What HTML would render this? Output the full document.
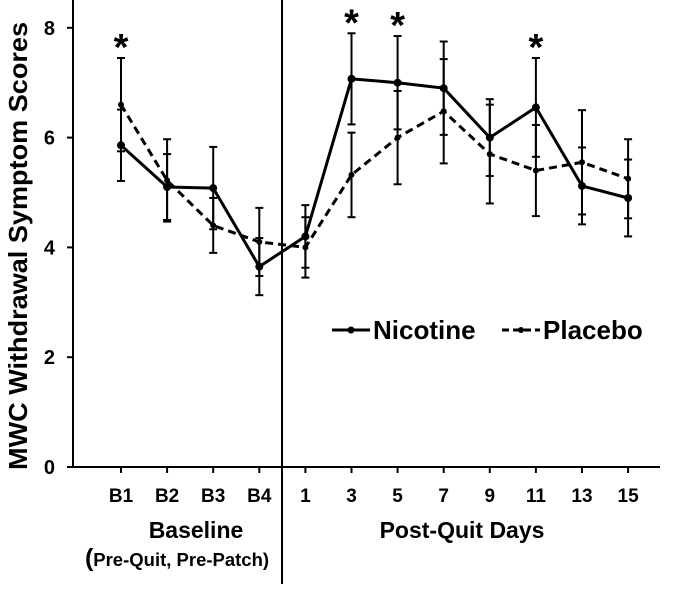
<!DOCTYPE html>
<html><head><meta charset="utf-8"><style>
body{margin:0;background:#fff}
svg text{font-family:"Liberation Sans",Arial,sans-serif;font-weight:bold;fill:#000}
</style></head><body>
<svg id="chart" width="685" height="584" viewBox="0 0 685 584" xmlns="http://www.w3.org/2000/svg">
<g id="axes"></g><g id="marks"></g>
</svg>
<script>
const categories=["B1","B2","B3","B4","1","3","5","7","9","11","13","15"];
const nicotine=[5.86,5.1,5.08,3.65,4.2,7.07,7.0,6.9,6.0,6.55,5.12,4.9];
const nicotineErr=[0.65,0.6,0.75,0.52,0.57,0.83,0.85,0.85,0.7,0.9,0.7,0.7];
const placebo=[6.6,5.22,4.4,4.1,4.0,5.32,6.0,6.48,5.7,5.4,5.55,5.25];
const placeboErr=[0.85,0.75,0.5,0.62,0.55,0.77,0.85,0.95,0.9,0.83,0.95,0.72];
const significant=["B1","3","5","11"];
const yTicks=[0,2,4,6,8];
const NS="http://www.w3.org/2000/svg";
const X0=121,DX=46.1;
function x(i){return X0+i*DX;}
function y(v){return 467-54.9*v;}
function mk(tag,attrs,parent,txt){const e=document.createElementNS(NS,tag);for(const k in attrs)e.setAttribute(k,attrs[k]);if(txt!==undefined)e.textContent=txt;parent.appendChild(e);return e;}
const axes=document.getElementById('axes'),marks=document.getElementById('marks');
let e;
e=mk('line',{x1:73,y1:0,x2:73,y2:468,stroke:'#000','stroke-width':2},axes);


e=mk('line',{x1:67,y1:467,x2:660,y2:467,stroke:'#000','stroke-width':2},axes);


e=mk('line',{x1:282,y1:0,x2:282,y2:584,stroke:'#000','stroke-width':2},axes);


yTicks.forEach(t=>{
 e=mk('line',{x1:67,y1:y(t),x2:73,y2:y(t),stroke:'#000','stroke-width':2},axes);
 
 
 e=mk('text',{x:55,y:y(t)+7,'text-anchor':'end','font-size':20},axes,t);
 
 
});
categories.forEach((c,i)=>{
 e=mk('line',{x1:x(i),y1:467,x2:x(i),y2:473,stroke:'#000','stroke-width':2},axes);
 
 
 e=mk('text',{x:x(i),y:502,'text-anchor':'middle','font-size':19},axes,c);
 
 
});
e=mk('text',{x:0,y:0,transform:'translate(27,246) rotate(-90)','text-anchor':'middle','font-size':26,textLength:448,lengthAdjust:'spacingAndGlyphs'},axes,'MWC Withdrawal Symptom Scores');


e=mk('text',{x:196,y:538,'text-anchor':'middle','font-size':23},axes,'Baseline');


e=mk('text',{x:462,y:538,'text-anchor':'middle','font-size':23},axes,'Post-Quit Days');


e=mk('text',{x:177,y:566,'text-anchor':'middle','font-size':18.5},axes);


mk('tspan',{'font-size':25},e,'(');mk('tspan',{},e,'Pre-Quit, Pre-Patch)');
function series(vals,errs,dash,name){
 vals.forEach((v,i)=>{
  const el=mk('g',{},marks);
  
  
  mk('line',{x1:x(i),y1:y(v-errs[i]),x2:x(i),y2:y(v+errs[i]),stroke:'#000','stroke-width':2},el);
  mk('line',{x1:x(i)-4,y1:y(v-errs[i]),x2:x(i)+4,y2:y(v-errs[i]),stroke:'#000','stroke-width':2},el);
  mk('line',{x1:x(i)-4,y1:y(v+errs[i]),x2:x(i)+4,y2:y(v+errs[i]),stroke:'#000','stroke-width':2},el);
 });
 const p=mk('polyline',{points:vals.map((v,i)=>x(i)+','+y(v)).join(' '),fill:'none',stroke:'#000','stroke-width':3,'stroke-dasharray':dash},marks);
 
 
 vals.forEach((v,i)=>{
  const c=mk('circle',{cx:x(i),cy:y(v),r:dash==='none'?4:3,fill:'#000'},marks);
  
  
 });
}
series(placebo,placeboErr,'8,5','placebo');
series(nicotine,nicotineErr,'none','nicotine');
significant.forEach(s=>{
 const i=categories.indexOf(s);
 const top=Math.max(nicotine[i]+nicotineErr[i],placebo[i]+placeboErr[i]);
 e=mk('text',{x:x(i),y:y(top)+2,'text-anchor':'middle','font-size':38},marks,'*');
 
 
});
const lg=mk('g',{},marks);


e=mk('g',{},lg);


mk('line',{x1:332,y1:330,x2:370,y2:330,stroke:'#000','stroke-width':3},e);
mk('circle',{cx:351,cy:330,r:3.5,fill:'#000'},e);
mk('text',{x:373,y:339,'font-size':26},e,'Nicotine');
e=mk('g',{},lg);


mk('line',{x1:502,y1:330,x2:540,y2:330,stroke:'#000','stroke-width':3,'stroke-dasharray':'7,4'},e);
mk('circle',{cx:521,cy:330,r:3,fill:'#000'},e);
mk('text',{x:543,y:339,'font-size':26},e,'Placebo');
</script>
</body></html>
